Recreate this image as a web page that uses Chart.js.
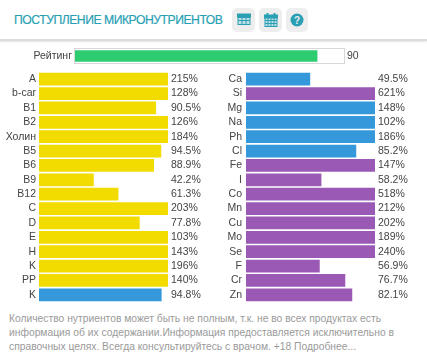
<!doctype html>
<html lang="ru">
<head>
<meta charset="utf-8">
<title>Поступление микронутриентов</title>
<script src="https://cdn.jsdelivr.net/npm/chart.js"></script>
<style>
  html, body { margin: 0; padding: 0; background: #fff; }
  body { width: 427px; height: 354px; position: relative; overflow: hidden; font-family: "Liberation Sans", Arial, sans-serif; }
  canvas { position: absolute; }
  #title { position: absolute; left: 14px; top: 12px; font-size: 12.2px; line-height: 17px; color: #2a9fb4; white-space: nowrap; -webkit-text-stroke: 0.2px #2a9fb4; letter-spacing: -0.48px; }
  .btn { position: absolute; top: 8px; height: 24px; background: #eeeeee; border-radius: 5px; }
  .btn svg { position: absolute; left: 0; top: 0; }
  #rule { position: absolute; left: 0; top: 39px; width: 427px; height: 2px; background: #dcdcdc; box-shadow: 0 1px 2px #e4e4e4; }
  #note { position: absolute; left: 9px; top: 312px; width: 410px; font-size: 10.3px; line-height: 14px; color: #9a9a9a; white-space: nowrap; }
</style>
</head>
<body>
<div id="title">ПОСТУПЛЕНИЕ МИКРОНУТРИЕНТОВ</div>
<div class="btn" style="left:232px;width:23px">
  <svg width="23" height="24" fill="none" stroke="#2a9fb4" stroke-width="1">
    <rect x="6" y="6.5" width="12" height="10" fill="#bfe0e6"/>
    <path d="M6 9.5H18M6 12.5H18M10 9.5V16.5M14 9.5V16.5"/>
    <rect x="5.5" y="6" width="13" height="3" fill="#2a9fb4"/>
  </svg>
</div>
<div class="btn" style="left:259px;width:23px">
  <svg width="23" height="24" fill="none" stroke="#2a9fb4" stroke-width="1">
    <rect x="6" y="7.5" width="12" height="11" fill="#bfe0e6"/>
    <rect x="5.5" y="7" width="13" height="3" fill="#2a9fb4"/>
    <path d="M6 12.5H18M6 15.5H18M9 10V18.5M12 10V18.5M15 10V18.5"/>
    <path d="M8.5 5V8M15.5 5V8" stroke-width="2"/>
  </svg>
</div>
<div class="btn" style="left:286px;width:22px">
  <svg width="22" height="24">
    <circle cx="11" cy="12" r="6.5" fill="#2a9fb4"/>
    <text x="11" y="15.5" font-size="10" font-weight="bold" fill="#eeeeee" text-anchor="middle" font-family="Liberation Sans">?</text>
  </svg>
</div>
<div id="rule"></div>

<canvas id="rating" width="427" height="16" style="left:0;top:48px"></canvas>
<canvas id="left" width="215" height="230" style="left:0;top:72px"></canvas>
<canvas id="right" width="212" height="230" style="left:215px;top:72px"></canvas>

<div id="note">Количество нутриентов может быть не полным, т.к. не во всех продуктах есть<br>информация об их содержании.Информация предоставляется исключительно в<br>справочных целях. Всегда консультируйтесь с врачом. +18 Подробнее...</div>

<script>
const ratingLabel = ['Рейтинг'];
const ratingValue = [90];

const leftNames = ['A', 'b-car', 'B1', 'B2', 'Холин', 'B5', 'B6', 'B9', 'B12', 'C', 'D', 'E', 'H', 'K', 'PP', 'K'];
const leftValues = [215, 128, 90.5, 126, 184, 94.5, 88.9, 42.2, 61.3, 203, 77.8, 103, 143, 196, 140, 94.8];
const leftColors = ['y', 'y', 'y', 'y', 'y', 'y', 'y', 'y', 'y', 'y', 'y', 'y', 'y', 'y', 'y', 'b'];

const rightNames = ['Ca', 'Si', 'Mg', 'Na', 'Ph', 'Cl', 'Fe', 'I', 'Co', 'Mn', 'Cu', 'Mo', 'Se', 'F', 'Cr', 'Zn'];
const rightValues = [49.5, 621, 148, 102, 186, 85.2, 147, 58.2, 518, 212, 202, 189, 240, 56.9, 76.7, 82.1];
const rightColors = ['b', 'p', 'b', 'b', 'b', 'b', 'p', 'p', 'p', 'p', 'p', 'p', 'p', 'p', 'p', 'p'];

const palette = { y: '#f2dc00', b: '#3498db', p: '#9b59b6' };
const tickFont = { family: '"Liberation Sans", Arial, sans-serif', size: 10.5 };
const tickColor = '#444';

// fixed axis width, and no extra room above/below for the tick labels
function fitAxis(width) {
  return function(axis) {
    axis.width = width;
    axis.paddingTop = 0;
    axis.paddingBottom = 0;
  };
}

// bars longer than 100% just run into the edge of the chart area
function barChart(id, names, values, colors, sizes) {
  new Chart(document.getElementById(id), {
    type: 'bar',
    data: {
      labels: names,
      datasets: [{
        data: values,
        backgroundColor: colors,
        barThickness: sizes.bar,
        yAxisID: 'y'
      }]
    },
    options: {
      indexAxis: 'y',
      responsive: false,
      animation: false,
      layout: { padding: 0 },
      plugins: { legend: { display: false }, tooltip: { enabled: false } },
      scales: {
        x: { display: false, min: 0, max: 100 },
        y: {
          position: 'left',
          afterFit: fitAxis(sizes.left),
          grid: { display: false, drawTicks: false },
          border: { display: false },
          ticks: { color: tickColor, font: tickFont, padding: sizes.pad, autoSkip: false }
        },
        y2: {
          type: 'category',
          position: 'right',
          offset: true,
          labels: values.map(function(v) { return v + '%'; }),
          afterFit: fitAxis(sizes.right),
          grid: { display: false, drawTicks: false },
          border: { display: false },
          ticks: {
            color: tickColor,
            font: tickFont,
            padding: 3,
            autoSkip: false,
            callback: function(v, i) { return sizes.plain ? String(values[i]) : values[i] + '%'; }
          }
        }
      }
    },
    plugins: sizes.frame ? [{
      id: 'frame',
      beforeDatasetsDraw: function(chart) {
        const a = chart.chartArea;
        chart.ctx.strokeStyle = '#d8d8d8';
        chart.ctx.strokeRect(a.left - 0.5, a.top + 0.5, a.width + 1, a.height - 1);
      }
    }] : []
  });
}

barChart('rating', ratingLabel, ratingValue, ['#2ecc71'], { bar: 11, left: 75, right: 83, pad: 3, plain: true, frame: true });
barChart('left', leftNames, leftValues, leftColors.map(function(c) { return palette[c]; }), { bar: 12, left: 39, right: 47, pad: 3 });
barChart('right', rightNames, rightValues, rightColors.map(function(c) { return palette[c]; }), { bar: 12, left: 31, right: 52, pad: 4 });
</script>
</body>
</html>
